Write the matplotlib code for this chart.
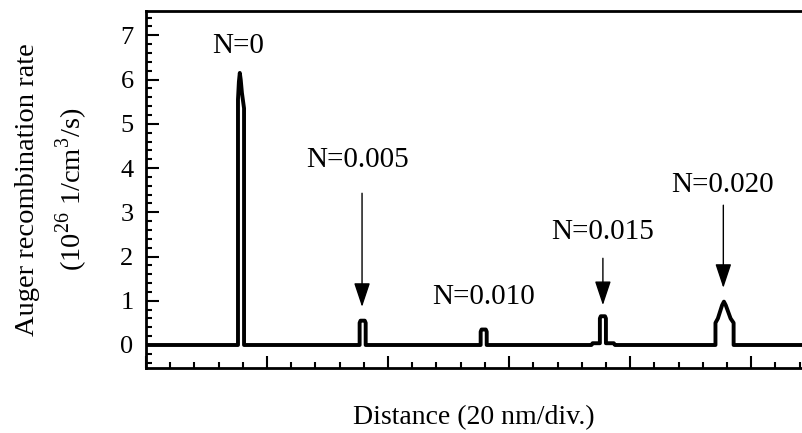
import matplotlib
matplotlib.use("Agg")
import matplotlib.pyplot as plt
from matplotlib.ticker import MultipleLocator, NullFormatter

plt.rcParams['font.family'] = ['Liberation Serif', 'DejaVu Serif']
plt.rcParams['mathtext.fontset'] = 'custom'
plt.rcParams['mathtext.rm'] = 'Liberation Serif'

# Profile points (distance in nm, rate in 1e26 1/cm^3/s)
dist = [0.0, 15.2, 15.2, 15.35, 15.5, 15.65, 15.85, 16.2, 16.2,
        35.3, 35.3, 35.45, 36.15, 36.3, 36.3,
        55.3, 55.3, 55.45, 56.15, 56.3, 56.3,
        73.6, 73.8, 75.0, 75.0, 75.15, 75.85, 76.0, 76.0, 77.3, 77.5,
        94.1, 94.1, 94.5, 95.2, 95.5, 95.8, 96.6, 97.1, 97.1, 108.4]
rate = [0.0, 0.0, 5.55, 5.95, 6.15, 6.0, 5.7, 5.35, 0.0,
        0.0, 0.5, 0.55, 0.55, 0.5, 0.0,
        0.0, 0.3, 0.35, 0.35, 0.3, 0.0,
        0.0, 0.04, 0.04, 0.6, 0.65, 0.65, 0.6, 0.04, 0.04, 0.0,
        0.0, 0.5, 0.6, 0.9, 0.98, 0.9, 0.6, 0.5, 0.0, 0.0]

labels = ["N=0", "N=0.005", "N=0.010", "N=0.015", "N=0.020"]
label_x = [15.2, 34.9, 55.7, 75.5, 95.2]
label_y = [6.77, 4.18, 1.08, 2.55, 3.61]

arrow_x = [35.7, 75.5, 95.4]
arrow_from = [3.43, 1.96, 3.16]
arrow_to = [0.86, 0.90, 1.29]

fig = plt.figure(figsize=(8.02, 4.33), dpi=100)
ax = fig.add_axes([146/802, (433-368)/433, (802-146)/802, (368-11)/433])

ax.plot(dist, rate, color='black', lw=2.8, solid_joinstyle='round')

ax.set_xlim(0, 108.4)
ax.set_ylim(-0.52, 7.55)

for sp in ['left', 'top', 'bottom']:
    ax.spines[sp].set_linewidth(2.0)
ax.spines['right'].set_visible(False)

ax.xaxis.set_major_locator(MultipleLocator(20))
ax.xaxis.set_minor_locator(MultipleLocator(4))
ax.xaxis.set_major_formatter(NullFormatter())
ax.yaxis.set_major_locator(MultipleLocator(1))
ax.yaxis.set_minor_locator(MultipleLocator(0.2))
ax.tick_params(which='both', direction='in', top=False, right=False)
ax.tick_params(which='major', length=9, width=1.5, labelsize=19, pad=9)
ax.tick_params(which='minor', length=4.5, width=1.5)

ax.set_ylabel("Auger recombination rate\n(10$^{26}$ 1/cm$^3$/s)", fontsize=20.5,
              linespacing=1.5, labelpad=22)
ax.set_xlabel("Distance (20 nm/div.)", fontsize=20, labelpad=18)

for t, x, y in zip(labels, label_x, label_y):
    ax.text(x, y, t, fontsize=21, ha='center', va='center')

for x, y0, y1 in zip(arrow_x, arrow_from, arrow_to):
    ax.annotate('', xy=(x, y1), xytext=(x, y0),
                arrowprops=dict(arrowstyle='-|>,head_length=1.5,head_width=0.5',
                                lw=1.0, color='black', shrinkA=0, shrinkB=0))

fig.savefig("out.png", dpi=100)
